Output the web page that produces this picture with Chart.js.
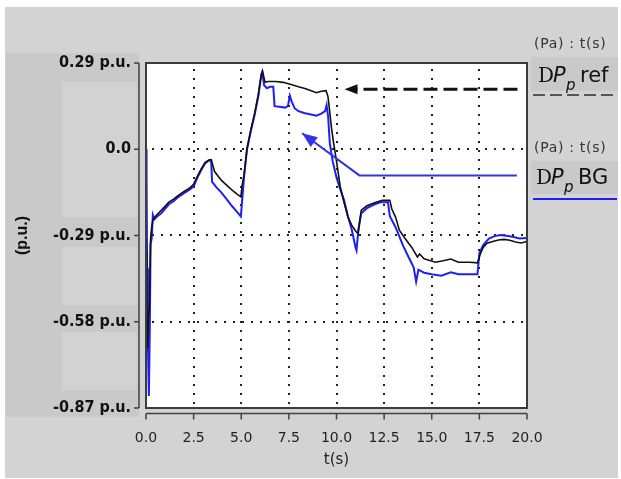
<!DOCTYPE html>
<html>
<head>
<meta charset="utf-8">
<script src="https://cdn.jsdelivr.net/npm/chart.js@4.4.1/dist/chart.umd.min.js"></script>
<style>
  html, body { margin: 0; padding: 0; background: #fff; }
  #wrap { width: 621px; height: 479px; }
</style>
</head>
<body>
<div id="wrap"><canvas id="chart" width="621" height="479"></canvas></div>
<script>
// time axis ticks
const xTicks = [0, 2.5, 5, 7.5, 10, 12.5, 15, 17.5, 20];
const xTickLabels = ['0.0', '2.5', '5.0', '7.5', '10.0', '12.5', '15.0', '17.5', '20.0'];

// y axis ticks (p.u.)
const yTicks = [-0.87, -0.58, -0.29, 0, 0.29];
const yTickLabels = ['-0.87 p.u.', '-0.58 p.u.', '-0.29 p.u.', '0.0', '0.29 p.u.'];

// DPp BG (blue)
const tBG = [0, 0.03, 0.06, 0.1, 0.15, 0.2, 0.24, 0.3, 0.36, 0.45, 0.6, 0.8, 1.0, 1.2, 1.45, 1.7, 2.0, 2.3, 2.5, 2.7,
  2.9, 3.1, 3.3, 3.42, 3.47, 3.7, 3.95, 4.2, 4.5, 4.8, 4.98, 5.05, 5.15, 5.3, 5.5, 5.7, 5.9, 6.05, 6.1, 6.2,
  6.35, 6.5, 6.68, 6.75, 7.0, 7.3, 7.45, 7.55, 7.65, 7.8, 8.0, 8.3, 8.6, 8.95, 9.2, 9.4, 9.48, 9.56, 9.65, 9.8,
  10.0, 10.2, 10.4, 10.6, 10.8, 11.0, 11.05, 11.15, 11.3, 11.6, 12.0, 12.3, 12.7, 12.8, 13.1, 13.5, 13.8, 14.05, 14.18, 14.3,
  14.6, 15.0, 15.5, 16.0, 16.4, 17.0, 17.4, 17.5, 17.7, 18.0, 18.3, 18.6, 19.0, 19.3, 19.6, 20.0];
const pBG = [0, -0.1, -0.4, -0.65, -0.83, -0.6, -0.32, -0.3, -0.22, -0.235, -0.225, -0.215, -0.2, -0.185, -0.175, -0.16, -0.148, -0.135, -0.125, -0.095,
  -0.07, -0.048, -0.038, -0.037, -0.11, -0.128, -0.145, -0.165, -0.19, -0.212, -0.226, -0.17, -0.09, 0.0, 0.06, 0.115, 0.18, 0.25, 0.26, 0.215,
  0.205, 0.21, 0.21, 0.145, 0.143, 0.14, 0.145, 0.18, 0.16, 0.138, 0.128, 0.122, 0.118, 0.113, 0.12, 0.128, 0.148, 0.11, 0.02, -0.04,
  -0.095, -0.135, -0.172, -0.225, -0.27, -0.33, -0.34, -0.27, -0.215, -0.198, -0.185, -0.178, -0.178, -0.225, -0.262, -0.325, -0.365, -0.397, -0.445, -0.405,
  -0.415, -0.42, -0.425, -0.414, -0.42, -0.42, -0.42, -0.35, -0.322, -0.3, -0.292, -0.288, -0.292, -0.295, -0.3, -0.298];

// DPp ref (black)
const tRef = [0, 0.04, 0.08, 0.12, 0.18, 0.24, 0.3, 0.38, 0.5, 0.65, 0.8, 1.0, 1.2, 1.45, 1.7, 2.0, 2.3, 2.5, 2.7, 2.9,
  3.1, 3.3, 3.42, 3.6, 3.95, 4.3, 4.6, 4.8, 4.98, 5.05, 5.15, 5.3, 5.5, 5.7, 5.9, 6.05, 6.12, 6.25, 6.4, 6.8,
  7.2, 7.7, 8.0, 8.3, 8.6, 8.95, 9.2, 9.45, 9.55, 9.62, 9.73, 9.85, 10.0, 10.2, 10.4, 10.6, 10.8, 11.0, 11.13, 11.2,
  11.3, 11.6, 12.0, 12.4, 12.8, 12.9, 13.1, 13.3, 13.6, 13.95, 14.25, 14.36, 14.6, 15.2, 15.6, 16.0, 16.4, 17.0, 17.4, 17.55,
  17.7, 17.9, 18.2, 18.5, 18.8, 19.1, 19.4, 19.7, 20.0];
const pRef = [-0.34, -0.6, -0.67, -0.58, -0.52, -0.3, -0.26, -0.235, -0.225, -0.215, -0.205, -0.192, -0.178, -0.168, -0.155, -0.142, -0.13, -0.118, -0.09, -0.066,
  -0.045, -0.036, -0.035, -0.075, -0.104, -0.125, -0.142, -0.152, -0.16, -0.12, -0.085, 0.0, 0.065, 0.12, 0.185, 0.25, 0.262, 0.225, 0.228, 0.228,
  0.225, 0.216, 0.21, 0.205, 0.198, 0.19, 0.195, 0.197, 0.178, 0.14, 0.075, 0.02, -0.04, -0.127, -0.18, -0.228, -0.255, -0.275, -0.284, -0.25,
  -0.205, -0.19, -0.18, -0.172, -0.172, -0.2, -0.228, -0.272, -0.3, -0.33, -0.362, -0.352, -0.368, -0.38, -0.375, -0.369, -0.38, -0.38, -0.382, -0.352,
  -0.33, -0.316, -0.31, -0.305, -0.303, -0.306, -0.312, -0.315, -0.31];

// arrow annotations, in data units
const refArrow = { from: [19.5, 0.202], to: [10.42, 0.202] };
const bgArrow = [[19.47, -0.088], [11.2, -0.088], [8.2, 0.054]];

const BG_BLUE = '#1f1ff5';

function toXY(ts, vs) { return ts.map((t, i) => ({ x: t, y: vs[i] })); }

function arrowHead(ctx, x0, y0, x1, y1, len, half) {
  const a = Math.atan2(y1 - y0, x1 - x0);
  ctx.beginPath();
  ctx.moveTo(x1, y1);
  ctx.lineTo(x1 - len * Math.cos(a) + half * Math.sin(a), y1 - len * Math.sin(a) - half * Math.cos(a));
  ctx.lineTo(x1 - len * Math.cos(a) - half * Math.sin(a), y1 - len * Math.sin(a) + half * Math.cos(a));
  ctx.closePath();
  ctx.fill();
}

function legendWord(ctx, x, base, word) {
  ctx.fillStyle = '#111';
  ctx.textAlign = 'left';
  ctx.textBaseline = 'alphabetic';
  ctx.font = '20px "DejaVu Serif"';
  ctx.fillText('D', x, base);
  ctx.font = 'italic 21px "DejaVu Sans"';
  ctx.fillText('P', x + 15, base);
  ctx.font = 'italic 15px "DejaVu Sans"';
  ctx.fillText('p', x + 28, base + 8);
  ctx.font = '21px "DejaVu Sans"';
  ctx.fillText(word, x + 42, base);
}

const decor = {
  id: 'decor',
  beforeDraw(chart) {
    const ctx = chart.ctx;
    ctx.save();
    ctx.fillStyle = '#ffffff';
    ctx.fillRect(0, 0, 621, 479);
    ctx.fillStyle = '#d3d3d3';
    ctx.fillRect(5, 7, 613, 471);
    // darker band behind the y labels
    ctx.fillStyle = '#c9c9c9';
    ctx.fillRect(5, 53, 134, 364);
    ctx.fillStyle = '#d2d2d2';
    ctx.fillRect(62, 82, 75, 135);
    ctx.fillRect(62, 247, 75, 58);
    ctx.fillRect(62, 332, 75, 58);
    // legend boxes
    ctx.fillStyle = '#c9c9c9';
    ctx.fillRect(531, 57, 87, 34);
    ctx.fillRect(531, 161, 87, 33);
    ctx.restore();
  },
  beforeDatasetsDraw(chart) {
    const { ctx, chartArea: a, scales: { x, y } } = chart;
    ctx.save();
    ctx.fillStyle = '#ffffff';
    ctx.fillRect(a.left, a.top, a.right - a.left, a.bottom - a.top);
    ctx.strokeStyle = '#222';
    ctx.lineWidth = 2;
    ctx.setLineDash([2, 7]);
    [0, -0.29, -0.58].forEach(v => {
      const py = Math.round(y.getPixelForValue(v));
      ctx.beginPath();
      ctx.moveTo(a.left + 6, py);
      ctx.lineTo(a.right, py);
      ctx.stroke();
    });
    xTicks.slice(1, -1).forEach(v => {
      const px = Math.round(x.getPixelForValue(v));
      ctx.beginPath();
      ctx.moveTo(px, a.top + 6);
      ctx.lineTo(px, a.bottom);
      ctx.stroke();
    });
    ctx.restore();
  },
  afterDatasetsDraw(chart) {
    const { ctx, chartArea: a, scales: { x, y } } = chart;
    ctx.save();
    // plot frame
    ctx.strokeStyle = '#3c3c3c';
    ctx.lineWidth = 2;
    ctx.strokeRect(a.left, a.top, a.right - a.left, a.bottom - a.top);
    // y bracket axis
    ctx.strokeStyle = '#404040';
    ctx.lineWidth = 1.5;
    const bx = a.left - 7;
    ctx.beginPath();
    ctx.moveTo(bx, y.getPixelForValue(yTicks[yTicks.length - 1]));
    ctx.lineTo(bx, y.getPixelForValue(yTicks[0]));
    yTicks.forEach(v => {
      const py = y.getPixelForValue(v);
      ctx.moveTo(bx - 5, py);
      ctx.lineTo(bx, py);
    });
    ctx.stroke();
    // x axis below the frame
    const ay = a.bottom + 5.5;
    ctx.beginPath();
    ctx.moveTo(a.left, ay);
    ctx.lineTo(a.right, ay);
    xTicks.forEach(v => {
      const px = x.getPixelForValue(v);
      ctx.moveTo(px, ay);
      ctx.lineTo(px, ay + 6);
    });
    ctx.stroke();

    // black dashed arrow
    const rx0 = x.getPixelForValue(refArrow.from[0]), ry0 = y.getPixelForValue(refArrow.from[1]);
    const rx1 = x.getPixelForValue(refArrow.to[0]), ry1 = y.getPixelForValue(refArrow.to[1]);
    ctx.strokeStyle = '#111';
    ctx.fillStyle = '#111';
    ctx.lineWidth = 3;
    ctx.setLineDash([14, 6]);
    ctx.beginPath();
    ctx.moveTo(rx0, ry0);
    ctx.lineTo(rx1 + 12, ry1);
    ctx.stroke();
    ctx.setLineDash([]);
    arrowHead(ctx, rx0, ry0, rx1, ry1, 13, 5);

    // blue arrow
    const pts = bgArrow.map(p => [x.getPixelForValue(p[0]), y.getPixelForValue(p[1])]);
    ctx.strokeStyle = '#3434e6';
    ctx.fillStyle = '#3434e6';
    ctx.lineWidth = 2;
    ctx.beginPath();
    ctx.moveTo(pts[0][0], pts[0][1]);
    ctx.lineTo(pts[1][0], pts[1][1]);
    ctx.lineTo(pts[2][0], pts[2][1]);
    ctx.stroke();
    arrowHead(ctx, pts[1][0], pts[1][1], pts[2][0], pts[2][1], 15, 6);
    ctx.restore();
  },
  afterDraw(chart) {
    const ctx = chart.ctx;
    ctx.save();
    ctx.fillStyle = '#333';
    ctx.font = '14px "DejaVu Sans"';
    ctx.letterSpacing = '0.7px';
    ctx.textBaseline = 'middle';
    ctx.textAlign = 'left';
    ctx.fillText('(Pa) : t(s)', 534, 44);
    ctx.fillText('(Pa) : t(s)', 534, 148);
    ctx.letterSpacing = '0px';
    legendWord(ctx, 538, 82, 'ref');
    legendWord(ctx, 536, 184, 'BG');
    ctx.strokeStyle = '#555';
    ctx.lineWidth = 2;
    ctx.setLineDash([12, 5]);
    ctx.beginPath();
    ctx.moveTo(533, 95);
    ctx.lineTo(618, 95);
    ctx.stroke();
    ctx.setLineDash([]);
    ctx.strokeStyle = BG_BLUE;
    ctx.beginPath();
    ctx.moveTo(533, 199);
    ctx.lineTo(617, 199);
    ctx.stroke();
    ctx.restore();
  }
};

new Chart(document.getElementById('chart'), {
  type: 'line',
  data: {
    datasets: [
      { label: 'DPp ref', data: toXY(tRef, pRef), borderColor: '#111', borderWidth: 1.6, pointRadius: 0, tension: 0 },
      { label: 'DPp BG', data: toXY(tBG, pBG), borderColor: BG_BLUE, borderWidth: 2, pointRadius: 0, tension: 0 }
    ]
  },
  options: {
    responsive: false,
    animation: false,
    layout: { padding: { left: 0, top: 63, right: 94, bottom: 0 } },
    plugins: { legend: { display: false }, tooltip: { enabled: false } },
    scales: {
      x: {
        type: 'linear', min: 0, max: 20,
        afterBuildTicks: s => { s.ticks = xTicks.map(v => ({ value: v })); },
        afterFit: s => { s.height = 71; },
        grid: { display: false, drawTicks: false },
        border: { display: false },
        ticks: {
          callback: (v, i) => xTickLabels[i],
          padding: 22, maxRotation: 0, autoSkip: false,
          color: '#222', font: { family: 'DejaVu Sans', size: 14 }
        },
        title: { display: true, text: 't(s)', color: '#222', font: { family: 'DejaVu Sans', size: 15 }, padding: { top: 10, bottom: 10 } }
      },
      y: {
        type: 'linear', min: -0.87, max: 0.29,
        afterBuildTicks: s => { s.ticks = yTicks.map(v => ({ value: v })); },
        afterFit: s => { s.width = 146; },
        grid: { display: false, drawTicks: false },
        border: { display: false },
        ticks: {
          callback: (v, i) => yTickLabels[i],
          padding: 15, autoSkip: false,
          color: '#111', font: { family: 'DejaVu Sans Condensed', size: 16, weight: 'bold' }
        },
        title: { display: true, text: '(p.u.)', color: '#111', font: { family: 'Liberation Sans', size: 16, weight: 'bold' }, padding: { top: 13, bottom: 0 } }
      }
    }
  },
  plugins: [decor]
});
</script>
</body>
</html>
